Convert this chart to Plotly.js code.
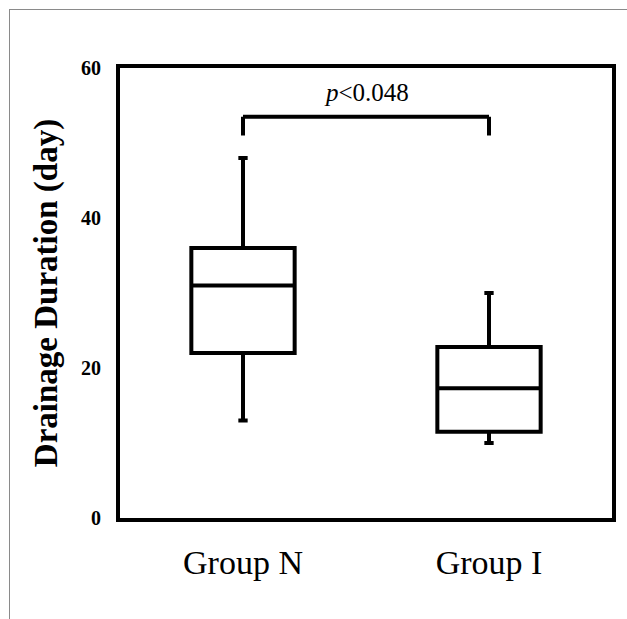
<!DOCTYPE html>
<html>
<head>
<meta charset="utf-8">
<script src="https://cdn.plot.ly/plotly-3.0.1.min.js"></script>
<style>
  html, body { margin: 0; padding: 0; background: #fff; overflow: hidden; }
  #wrap { position: relative; width: 627px; height: 619px; overflow: hidden; }
  #chart { width: 627px; height: 619px; }
  #frame { position: absolute; left: 9px; top: 9px; width: 640px; height: 640px;
           border-left: 1.5px solid #8a8a8a; border-top: 1.5px solid #8a8a8a; pointer-events: none; }
</style>
</head>
<body>
<div id="wrap">
  <div id="chart"></div>
  <div id="frame"></div>
</div>
<script>
// ---- data ----
const categories = ["Group N", "Group I"];
const lowerFence = [13, 10];
const q1Values = [22, 11.5];
const medianValues = [31, 17.3];
const q3Values = [36, 22.8];
const upperFence = [48, 30];
const pLabel = "<i>p</i>&lt;0.048";
const yTickValues = [0, 20, 40, 60];
const yTickLabels = ["0", "20", "40", "60"];
const yTitle = "Drainage Duration (day)";

const serif = '"Liberation Serif", "Times New Roman", Times, serif';

const trace = {
  type: "box",
  x: categories,
  q1: q1Values,
  median: medianValues,
  q3: q3Values,
  lowerfence: lowerFence,
  upperfence: upperFence,
  width: 0.42,
  whiskerwidth: 0.09,
  fillcolor: "rgba(255,255,255,0)",
  line: { color: "#000", width: 4 },
  boxpoints: false,
  showlegend: false,
  hoverinfo: "skip"
};

const bracketY = 53.5, bracketLow = 51;
const shapes = [
  { type: "line", xref: "x", yref: "y", x0: 0, x1: 1, y0: bracketY, y1: bracketY, line: { color: "#000", width: 4 } },
  { type: "line", xref: "x", yref: "y", x0: 0, x1: 0, y0: bracketY, y1: bracketLow, line: { color: "#000", width: 4 } },
  { type: "line", xref: "x", yref: "y", x0: 1, x1: 1, y0: bracketY, y1: bracketLow, line: { color: "#000", width: 4 } }
];

const layout = {
  width: 627, height: 619,
  margin: { l: 120, r: 15, t: 68, b: 101 },
  paper_bgcolor: "#fff", plot_bgcolor: "#fff",
  showlegend: false,
  xaxis: {
    type: "category",
    range: [-0.5, 1.5],
    showline: true, mirror: true, linecolor: "#000", linewidth: 4,
    showgrid: false, zeroline: false, ticks: "",
    ticklabelstandoff: 11,
    tickfont: { family: serif, size: 34, color: "#000" },
    fixedrange: true
  },
  yaxis: {
    range: [0, 60],
    tickvals: yTickValues, ticktext: yTickLabels,
    showline: true, mirror: true, linecolor: "#000", linewidth: 4,
    showgrid: false, zeroline: false, ticks: "",
    ticklabelstandoff: 11,
    tickfont: { family: serif, size: 20, color: "#000", weight: "bold" },
    title: { text: "<b>" + yTitle + "</b>", font: { family: serif, size: 33, color: "#000" }, standoff: 14 },
    automargin: false,
    fixedrange: true
  },
  shapes: shapes,
  annotations: [
    { xref: "x", yref: "y", x: 0.5, y: 56.8, text: pLabel, showarrow: false,
      xanchor: "center", yanchor: "middle", font: { family: serif, size: 25, color: "#000" } }
  ]
};

Plotly.newPlot("chart", [trace], layout, { displayModeBar: false, staticPlot: true });
</script>
</body>
</html>
